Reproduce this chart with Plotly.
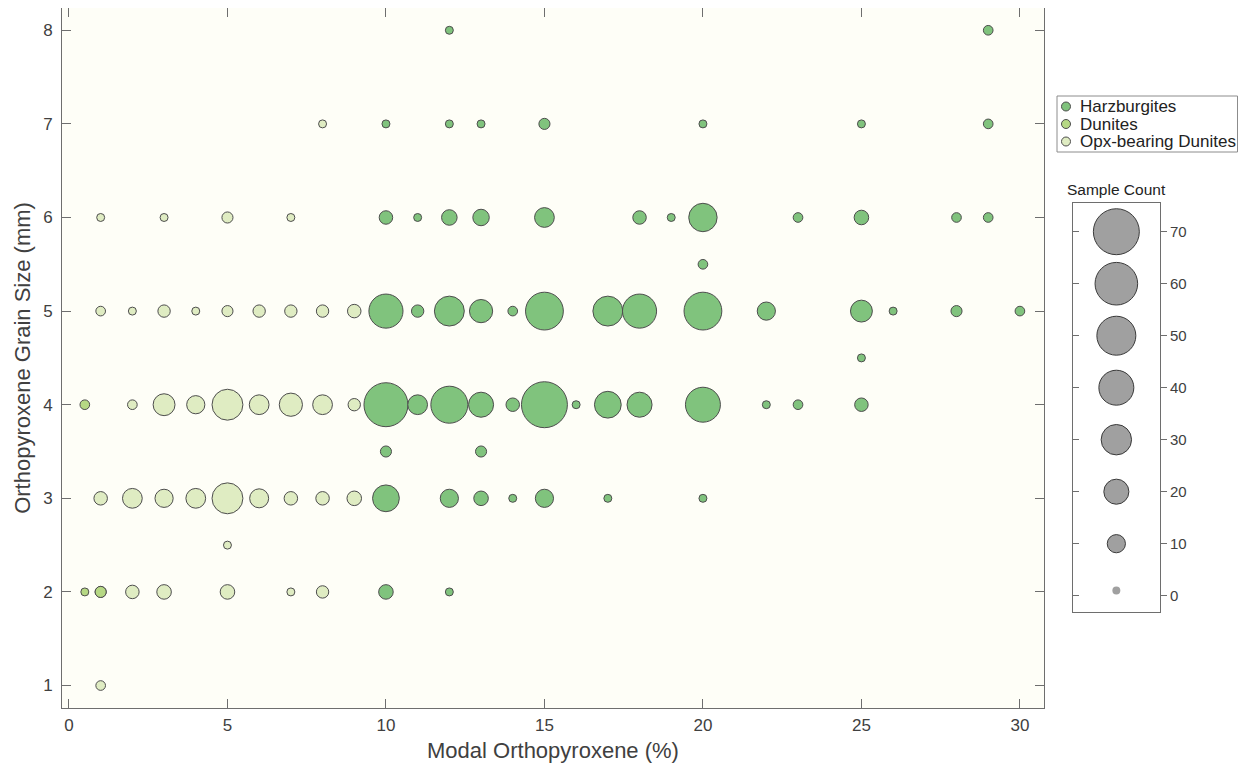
import numpy as np
import plotly.graph_objects as go

# ---------------- data ----------------
# Harzburgites: modal opx (%), grain size (mm), sample count
harz_x = [12, 29,
          10, 12, 13, 15, 20, 25, 29,
          10, 11, 12, 13, 15, 18, 19, 20, 23, 25, 28, 29,
          20,
          10, 11, 12, 13, 14, 15, 17, 18, 20, 22, 25, 26, 28, 30,
          25,
          10, 11, 12, 13, 14, 15, 16, 17, 18, 20, 22, 23, 25,
          10, 13,
          10, 12, 13, 14, 15, 17, 20,
          10, 12]
harz_y = [8, 8,
          7, 7, 7, 7, 7, 7, 7,
          6, 6, 6, 6, 6, 6, 6, 6, 6, 6, 6, 6,
          5.5,
          5, 5, 5, 5, 5, 5, 5, 5, 5, 5, 5, 5, 5, 5,
          4.5,
          4, 4, 4, 4, 4, 4, 4, 4, 4, 4, 4, 4, 4,
          3.5, 3.5,
          3, 3, 3, 3, 3, 3, 3,
          2, 2]
harz_n = [1, 2,
          1, 1, 1, 3, 1, 1, 2,
          5, 1, 7, 8, 12, 5, 1, 26, 2, 6, 2, 2,
          2,
          38, 4, 29, 17, 2, 47, 29, 38, 47, 10, 15, 1, 3, 2,
          1,
          64, 12, 45, 20, 5, 70, 1, 23, 20, 40, 1, 2, 5,
          3, 3,
          23, 10, 6, 1, 10, 1, 1,
          6, 1]

# Dunites
dun_x = [0.5, 0.5, 1]
dun_y = [4, 2, 2]
dun_n = [2, 1, 3]

# Opx-bearing Dunites
opx_x = [8,
         1, 3, 5, 7,
         1, 2, 3, 4, 5, 6, 7, 8, 9,
         2, 3, 4, 5, 6, 7, 8, 9,
         1, 2, 3, 4, 5, 6, 7, 8, 9,
         5,
         1, 2, 3, 5, 7, 8,
         1]
opx_y = [7,
         6, 6, 6, 6,
         5, 5, 5, 5, 5, 5, 5, 5, 5,
         4, 4, 4, 4, 4, 4, 4, 4,
         3, 3, 3, 3, 3, 3, 3, 3, 3,
         2.5,
         2, 2, 2, 2, 2, 2,
         1]
opx_n = [1,
         1, 1, 3, 1,
         2, 1, 4, 1, 3, 4, 4, 4, 5,
         2, 15, 10, 31, 12, 17, 12, 4,
         5, 12, 10, 12, 31, 11, 5, 5, 6,
         1,
         3, 5, 6, 6, 1, 4,
         2]

# category legend
legend_names = ["Harzburgites", "Dunites", "Opx-bearing Dunites"]

# bubble-size legend
leg_counts = [1, 10, 20, 30, 40, 50, 60, 70]
leg_ticks = [0, 10, 20, 30, 40, 50, 60, 70]

x_ticks = [0, 5, 10, 15, 20, 25, 30]
y_ticks = [1, 2, 3, 4, 5, 6, 7, 8]


def diam(n):
    n = np.asarray(n, dtype=float)
    return np.sqrt(34.0 + 29.7 * n)


C_HARZ = "#80C37D"
C_DUN = "#B6D884"
C_OPX = "#DFECC2"
EDGE = "#4D4D4D"
AX = "#6E6E6E"
TXT = "#404040"
FONT = "Liberation Sans, Arial, sans-serif"
legend_colors = [C_HARZ, C_DUN, C_OPX]

# page has an 8px body margin: work in reference coords and shift by 8
OFF = 8
W, H = 1246 - 2 * OFF, 772 - 2 * OFF


def fx(px):
    return min(max((px - OFF) / W, 0.0), 1.0)


def fy(py):
    return min(max(1 - (py - OFF) / H, 0.0), 1.0)


fig = go.Figure()


def bubbles(x, y, n, color, name):
    fig.add_trace(go.Scatter(
        x=x, y=y, mode="markers", name=name, showlegend=False,
        marker=dict(size=diam(n), color=color, opacity=1,
                    line=dict(color=EDGE, width=1)),
        xaxis="x", yaxis="y", hoverinfo="x+y+text", text=[str(v) for v in n]))


bubbles(opx_x, opx_y, opx_n, C_OPX, "Opx-bearing Dunites")
bubbles(dun_x, dun_y, dun_n, C_DUN, "Dunites")
bubbles(harz_x, harz_y, harz_n, C_HARZ, "Harzburgites")

# size legend bubbles
fig.add_trace(go.Scatter(
    x=[0.5] * len(leg_counts), y=leg_counts, mode="markers", showlegend=False,
    marker=dict(size=diam(leg_counts), color="#A0A0A0", opacity=1,
                line=dict(color="#3A3A3A", width=[0] + [1] * (len(leg_counts) - 1))),
    xaxis="x2", yaxis="y2", hoverinfo="y"))
fig.add_trace(go.Scatter(x=[None], y=[None], xaxis="x2", yaxis="y3", showlegend=False))

# category legend drawn in its own little axis box
lgx0, lgx1, lgy0, lgy1 = 1057, 1237.5, 96, 152
row_y = [106.5, 124, 141.5]
fig.add_trace(go.Scatter(
    x=[9] * 3, y=[r - lgy0 for r in row_y], mode="markers", showlegend=False,
    marker=dict(size=9, color=legend_colors, opacity=1, line=dict(color=EDGE, width=1)),
    xaxis="x4", yaxis="y4", hoverinfo="skip"))

px0, px1, py0, py1 = 62, 1044, 8, 708
lx0, lx1, ly0, ly1 = 1072.7, 1160, 202.7, 611.7

axis_common = dict(showgrid=False, zeroline=False, showline=True, linecolor=AX,
                   linewidth=1, ticks="inside", ticklen=9, tickcolor=AX,
                   mirror="ticks", tickfont=dict(family=FONT, size=17, color=TXT))

annotations = [dict(text="Sample Count", x=fx((lx0 + lx1) / 2), y=fy(189),
                    xref="paper", yref="paper", showarrow=False,
                    font=dict(family=FONT, size=15.5, color="#222222"),
                    xanchor="center", yanchor="middle")]
for nm, r in zip(legend_names, row_y):
    annotations.append(dict(text=nm, x=fx(1078), y=fy(r), xref="paper", yref="paper",
                            showarrow=False, xanchor="left", yanchor="middle",
                            font=dict(family=FONT, size=17, color="#222222")))

shapes = [
    dict(type="rect", xref="paper", yref="paper", x0=fx(lgx0), x1=fx(lgx1),
         y0=fy(lgy1), y1=fy(lgy0), line=dict(color="#8C8C8C", width=1),
         fillcolor="white", layer="below"),
    dict(type="rect", xref="x2 domain", yref="y2 domain", x0=0, x1=1, y0=0, y1=1,
         line=dict(width=0), fillcolor="white", layer="below"),
]

fig.update_layout(
    width=W, height=H,
    margin=dict(l=0, r=0, t=0, b=0),
    paper_bgcolor="white",
    plot_bgcolor="#FEFEF7",
    font=dict(family=FONT, color=TXT),
    showlegend=False,
    xaxis=dict(domain=[fx(px0), fx(px1)], range=[-0.22, 30.76],
               tickvals=x_ticks, anchor="y", ticklabelstandoff=2,
               title=dict(text="Modal Orthopyroxene (%)", font=dict(size=22, color=TXT), standoff=8),
               **axis_common),
    yaxis=dict(domain=[fy(py1), fy(py0)], range=[0.76, 8.238],
               tickvals=y_ticks, anchor="x", ticklabelstandoff=5,
               title=dict(text="Orthopyroxene Grain Size (mm)", font=dict(size=22, color=TXT), standoff=6),
               **axis_common),
    xaxis2=dict(domain=[fx(lx0), fx(lx1)], range=[0, 1], anchor="y2",
                showgrid=False, zeroline=False, showline=True, mirror=True,
                linecolor=AX, linewidth=1, showticklabels=False, ticks=""),
    yaxis2=dict(domain=[fy(ly1), fy(ly0)], range=[-3.08, 75.58], anchor="x2",
                side="right", tickvals=leg_ticks, showgrid=False, zeroline=False,
                showline=True, mirror=True, linecolor=AX, linewidth=1,
                ticks="outside", ticklen=6, tickcolor=AX,
                tickfont=dict(family=FONT, size=15, color=TXT)),
    yaxis3=dict(overlaying="y2", range=[-3.08, 75.58], anchor="x2", side="left",
                tickvals=leg_ticks, showgrid=False, zeroline=False, showline=False,
                ticks="inside", ticklen=6, tickcolor=AX, showticklabels=False),
    xaxis4=dict(domain=[fx(lgx0), fx(lgx1)], range=[0, lgx1 - lgx0], anchor="y4",
                visible=False, fixedrange=True),
    yaxis4=dict(domain=[fy(lgy1), fy(lgy0)], range=[lgy1 - lgy0, 0], anchor="x4",
                visible=False, fixedrange=True),
    annotations=annotations,
    shapes=shapes,
)

fig.write_html("out.html")
